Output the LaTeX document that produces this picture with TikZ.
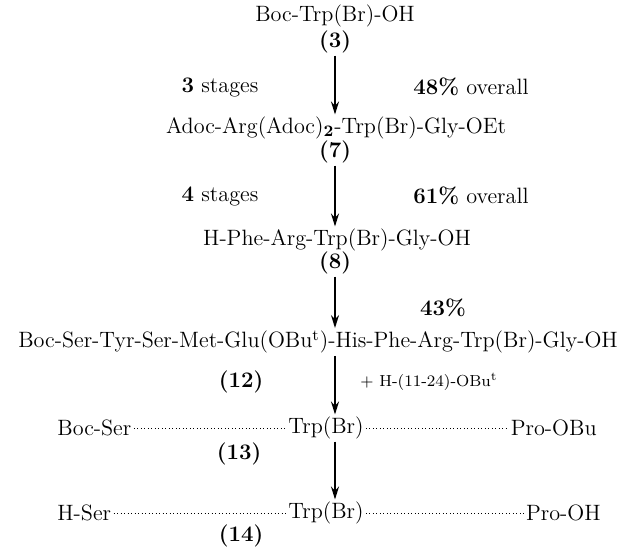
\documentclass[tikz,border=0pt]{standalone}
\usepackage{tikz}
\usetikzlibrary{arrows.meta,positioning}
\newcommand{\Cmpd}[1]{\textbf{(#1)}}

\begin{document}
\begin{tikzpicture}[
  x=0.5pt,y=-0.5pt,
  font=\fontsize{11.1}{13}\selectfont,
  chem/.style={inner sep=1pt},
  label/.style={inner sep=1pt},
  reagent/.style={inner sep=1pt,font=\fontsize{8}{10}\selectfont},
  react/.style={-{Stealth[length=6.5pt,width=4pt]},line width=0.9pt},
  chain/.style={line width=0.45pt,dash pattern=on 0.45pt off 1.3pt},
]
  \useasboundingbox (0,0) rectangle (626,546);
  \coordinate (axis) at (335,0);

  % starting material and first steps
  \node[chem] (Trp) at (335,16) {Boc-Trp(Br)-OH};
  \node[chem] (c3) at (335,42) {\Cmpd{3}};
  \node[chem] (Adoc) at (336,128) {Adoc-Arg(Adoc)$_{\mathbf 2}$-Trp(Br)-Gly-OEt};
  \node[chem] (c7) at (335,152) {\Cmpd{7}};
  \node[chem] (Phe) at (337,240) {H-Phe-Arg-Trp(Br)-Gly-OH};
  \node[chem] (c8) at (335,263) {\Cmpd{8}};

  \node[label] (stA) at (220,87) {\textbf{3} stages};
  \node[label] (ydA) at (471,87) {\textbf{48\%} overall};
  \node[label] (stB) at (220,196) {\textbf{4} stages};
  \node[label] (ydB) at (471,196) {\textbf{61\%} overall};
  \node[label] (ydC) at (443,308) {\textbf{43\%}};

  % fragment condensation
  \node[chem] (Ser) at (318,342)
    {Boc-Ser-Tyr-Ser-Met-Glu(OBu\textsuperscript{t})-His-Phe-Arg-Trp(Br)-Gly-OH};
  \node[chem] (c12) at (241,382) {\Cmpd{12}};
  \node[reagent,anchor=west] (frag) at (358,382) {+ H-(11-24)-OBu\textsuperscript{t}};

  % protected and free peptide
  \node[chem,anchor=west] (BocSer) at (55,428) {Boc-Ser};
  \node[chem] (TrpP) at (326,428) {Trp(Br)};
  \node[chem,anchor=east] (ProOBu) at (599,428) {Pro-OBu};
  \node[chem] (c13) at (239,454) {\Cmpd{13}};
  \node[chem,anchor=west] (HSer) at (55,513) {H-Ser};
  \node[chem] (TrpF) at (326,513) {Trp(Br)};
  \node[chem,anchor=east] (ProOH) at (603,513) {Pro-OH};
  \node[chem] (c14) at (241,536) {\Cmpd{14}};

  \draw[react] (c3.south -| axis) -- (Adoc.north -| axis);
  \draw[react] (c7.south -| axis) -- (Phe.north -| axis);
  \draw[react] (c8.south -| axis) -- (Ser.north -| axis);
  \draw[react] (Ser.south -| axis) -- (TrpP.north -| axis);
  \draw[react] (TrpP.south -| axis) -- (TrpF.north -| axis);

  \draw[chain] (BocSer.east) -- (TrpP.west);
  \draw[chain] (TrpP.east) -- (ProOBu.west);
  \draw[chain] (HSer.east) -- (TrpF.west);
  \draw[chain] (TrpF.east) -- (ProOH.west);
\end{tikzpicture}
\end{document}
